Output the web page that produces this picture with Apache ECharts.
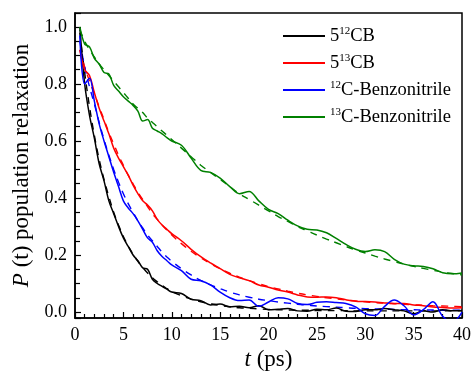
<!DOCTYPE html>
<html>
<head>
<meta charset="utf-8">
<script src="https://cdn.jsdelivr.net/npm/echarts@6/dist/echarts.min.js"></script>
<style>html,body{margin:0;padding:0;background:#fff}#c{width:471px;height:372px}</style>
</head>
<body>
<div id="c"></div>
<script>
// time grid (ps)
var times = [0.5,1,1.5,2,2.5,3,3.5,4,4.5,5,5.5,6,6.5,7,7.5,8,8.5,9,9.5,10,
  11,12,13,14,15,16,17,18,19,20,21,22,23,24,25,26,27,28,29,30,31,32,33,34,35,36,37,38,39,40];

var legendNames = ['5{sup|12}CB', '5{sup|13}CB', '{sup|12}C-Benzonitrile', '{sup|13}C-Benzonitrile'];
var seriesKeys = ['5_12CB', '5_13CB', '12C-Benzonitrile', '13C-Benzonitrile'];
var colors = ['#000000', '#ff0000', '#0000ff', '#008000'];
var xTicks = [0,5,10,15,20,25,30,35,40];
var yTicks = [0.0,0.2,0.4,0.6,0.8,1.0];

// simulated population relaxation (solid)
var cb12 = [1.0,0.80,0.69,0.61,0.52,0.46,0.39,0.345,0.30,0.26,0.23,0.20,0.18,0.155,0.15,0.115,0.10,0.09,0.08,0.07,
  0.065,0.045,0.04,0.025,0.028,0.018,0.02,0.015,0.022,0.008,0.01,0.012,0.004,0.003,0.01,0.008,0.014,0.003,0.002,0.008,
  0.008,0.012,0.008,0.004,-0.006,0.004,0.0,0.008,0.004,0.005];
var cb13 = [0.92,0.85,0.83,0.77,0.715,0.67,0.625,0.575,0.54,0.51,0.48,0.445,0.415,0.39,0.375,0.355,0.325,0.305,0.29,0.275,
  0.25,0.22,0.194,0.172,0.152,0.132,0.12,0.11,0.095,0.087,0.077,0.07,0.06,0.053,0.052,0.053,0.05,0.043,0.038,0.037,
  0.035,0.032,0.03,0.03,0.025,0.022,0.018,0.016,0.014,0.015];
var bz12 = [0.97,0.80,0.82,0.74,0.66,0.60,0.545,0.49,0.44,0.39,0.365,0.345,0.32,0.29,0.26,0.245,0.215,0.195,0.18,0.165,
  0.145,0.115,0.11,0.095,0.07,0.05,0.04,0.042,0.02,0.035,0.05,0.046,0.03,0.026,0.034,0.036,0.033,0.03,0.018,-0.006,
  -0.012,0.02,0.042,0.022,-0.01,0.008,0.036,-0.015,-0.035,0.0];
var bz13 = [1.0,0.94,0.93,0.89,0.87,0.84,0.835,0.795,0.775,0.755,0.74,0.725,0.705,0.67,0.675,0.645,0.635,0.625,0.612,0.60,
  0.585,0.54,0.497,0.49,0.47,0.44,0.415,0.423,0.39,0.36,0.345,0.322,0.302,0.29,0.288,0.278,0.258,0.237,0.22,0.212,
  0.218,0.212,0.185,0.168,0.162,0.16,0.152,0.138,0.134,0.137];

// fitted curves (dashed)
var cb12Fit = [0.98,0.84,0.72,0.62,0.535,0.465,0.405,0.35,0.305,0.265,0.232,0.203,0.178,0.156,0.137,0.12,0.106,0.093,0.082,0.072,
  0.057,0.045,0.036,0.029,0.023,0.019,0.015,0.013,0.011,0.009,0.008,0.007,0.006,0.006,0.005,0.005,0.005,0.005,0.004,0.004,
  0.004,0.004,0.004,0.004,0.004,0.004,0.004,0.004,0.004,0.004];
var cb13Fit = [0.92,0.86,0.81,0.765,0.72,0.675,0.63,0.59,0.55,0.515,0.48,0.45,0.42,0.395,0.37,0.345,0.325,0.305,0.287,0.27,
  0.24,0.213,0.19,0.17,0.152,0.136,0.122,0.11,0.099,0.089,0.081,0.073,0.066,0.06,0.055,0.05,0.046,0.042,0.039,0.036,
  0.033,0.031,0.029,0.027,0.025,0.024,0.022,0.021,0.02,0.019];
var bz12Fit = [0.95,0.86,0.79,0.73,0.665,0.605,0.55,0.50,0.455,0.415,0.38,0.35,0.32,0.295,0.27,0.25,0.23,0.21,0.193,0.178,
  0.152,0.13,0.111,0.095,0.082,0.07,0.06,0.052,0.045,0.04,0.035,0.031,0.027,0.024,0.021,0.019,0.017,0.015,0.013,0.012,
  0.011,0.01,0.009,0.008,0.008,0.007,0.007,0.006,0.006,0.006];
var bz13Fit = [0.99,0.95,0.92,0.895,0.87,0.85,0.83,0.81,0.79,0.77,0.75,0.73,0.715,0.70,0.68,0.665,0.65,0.635,0.62,0.605,
  0.575,0.545,0.515,0.49,0.465,0.44,0.415,0.395,0.375,0.355,0.335,0.318,0.30,0.285,0.27,0.256,0.243,0.23,0.218,0.207,
  0.196,0.186,0.177,0.168,0.16,0.153,0.146,0.14,0.135,0.13];

var solid = [cb12, cb13, bz12, bz13];
var fits = [cb12Fit, cb13Fit, bz12Fit, bz13Fit];

function pairs(arr){ return times.map(function(t,i){ return [t, arr[i]]; }); }

var series = [];
for (var k = 0; k < 4; k++) {
  series.push({
    name: seriesKeys[k] + ' fit', type: 'line', symbol: 'none', smooth: 0.4,
    data: pairs(fits[k]), lineStyle: {color: colors[k], width: 1.4, type: [7, 6]}, z: 2, silent: true
  });
}
for (var k = 0; k < 4; k++) {
  series.push({
    name: seriesKeys[k], type: 'line', symbol: 'none', smooth: 0.35,
    data: pairs(solid[k]), itemStyle: {color: colors[k]}, lineStyle: {color: colors[k], width: 1.5}, z: 3
  });
}

var FONT = '"Liberation Serif", "Times New Roman", serif';
var chart = echarts.init(document.getElementById('c'), null, {renderer: 'canvas'});
chart.setOption({
  animation: false,
  backgroundColor: '#fff',
  grid: {left: 75, right: 9, top: 13, bottom: 54, containLabel: false, outerBoundsMode: 'none',
    show: true, borderColor: '#000', borderWidth: 1.5, backgroundColor: 'transparent'},
  legend: {
    data: seriesKeys,
    left: 283, top: 26, padding: 0, orient: 'vertical', icon: 'rect', itemWidth: 42, itemHeight: 2, itemGap: 7,
    formatter: function(name){ return legendNames[seriesKeys.indexOf(name)]; },
    textStyle: {fontFamily: FONT, fontSize: 18.5, color: '#000', lineHeight: 20,
      rich: {sup: {fontFamily: FONT, fontSize: 11, verticalAlign: 'top', color: '#000', lineHeight: 12}}}
  },
  xAxis: {
    type: 'value', min: 0, max: 40, interval: 5,
    name: '{i|t} (ps)', nameLocation: 'middle', nameGap: 27,
    nameTextStyle: {fontFamily: FONT, fontSize: 23, color: '#000', rich: {i: {fontFamily: FONT, fontSize: 23, fontStyle: 'italic', color: '#000'}}},
    axisLine: {onZero: false, lineStyle: {color: '#000', width: 1.5}},
    axisTick: {inside: true, length: 6, lineStyle: {color: '#000', width: 1.2}},
    minorTick: {show: true, splitNumber: 5, length: 4, lineStyle: {color: '#000', width: 1.2}},
    axisLabel: {fontFamily: FONT, fontSize: 18, color: '#000', margin: 8,
      formatter: function(v){ return xTicks.indexOf(v) >= 0 ? String(v) : ''; }},
    splitLine: {show: false}
  },
  yAxis: {
    type: 'value', min: -0.021, max: 1.049, splitNumber: 5,
    name: '{i|P} (t) population relaxation', nameLocation: 'middle', nameGap: 39,
    nameTextStyle: {fontFamily: FONT, fontSize: 23, color: '#000', rich: {i: {fontFamily: FONT, fontSize: 23, fontStyle: 'italic', color: '#000'}}},
    axisLine: {onZero: false, lineStyle: {color: '#000', width: 1.5}},
    axisTick: {inside: true, length: 6, lineStyle: {color: '#000', width: 1.2}},
    minorTick: {show: true, splitNumber: 4, length: 5, lineStyle: {color: '#000', width: 1.2}},
    axisLabel: {fontFamily: FONT, fontSize: 18, color: '#000', margin: 8, showMinLabel: false, showMaxLabel: false,
      formatter: function(v){ for (var i=0;i<yTicks.length;i++){ if (Math.abs(v-yTicks[i])<1e-6) return yTicks[i].toFixed(1);} return ''; }},
    splitLine: {show: false}
  },
  series: series
});
</script>
</body>
</html>
